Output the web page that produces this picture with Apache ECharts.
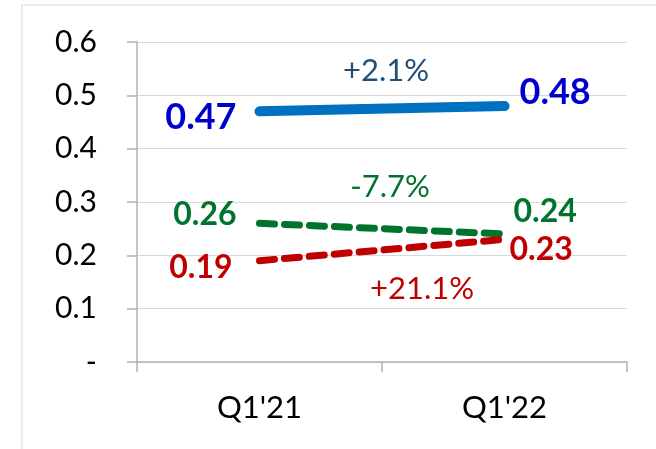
<!DOCTYPE html>
<html>
<head>
<meta charset="utf-8">
<script src="https://cdn.jsdelivr.net/npm/echarts@6/dist/echarts.min.js"></script>
<style>
  html, body { margin: 0; padding: 0; background: #fff; }
  #main { width: 656px; height: 449px; }
</style>
</head>
<body>
<div id="main"></div>
<script>
var categories = ["Q1'21", "Q1'22"];
var blueValues = [0.47, 0.48];
var greenValues = [0.26, 0.24];
var redValues = [0.19, 0.23];
var changeLabels = ['+2.1%', '-7.7%', '+21.1%'];

var FONT = 'Lato';

var myChart = echarts.init(document.getElementById('main'));

function series(name, data, color, width, dashed, labelColor, size, offs) {
    return {
        name: name,
        type: 'line',
        data: data.map(function (v, i) {
            return {
                value: v,
                label: {
                    show: true,
                    position: i === 0 ? 'left' : 'right',
                    offset: offs[i],
                    distance: 0,
                    fontFamily: FONT,
                    fontWeight: 'bold',
                    fontSize: size,
                    color: labelColor,
                    formatter: function (p) { return p.value.toFixed(2); }
                }
            };
        }),
        symbol: 'circle',
        symbolSize: 2,
        showSymbol: true,
        itemStyle: { color: 'rgba(0,0,0,0)', borderWidth: 0 },
        lineStyle: {
            color: color,
            width: width,
            type: dashed ? [15, 10] : 'solid',
            cap: 'round'
        },
        z: 3
    };
}

myChart.setOption({
    animation: false,
    grid: { left: 137, right: 29, top: 42, bottom: 87 },
    xAxis: {
        type: 'category',
        data: categories,
        boundaryGap: true,
        axisLine: { lineStyle: { color: '#b3b3b3', width: 1.5 } },
        axisTick: { show: true, length: 10, lineStyle: { color: '#b3b3b3', width: 1.5 } },
        axisLabel: { color: '#000', fontFamily: FONT, fontSize: 31, margin: 30 }
    },
    yAxis: {
        type: 'value',
        min: 0,
        max: 0.6,
        interval: 0.1,
        axisLine: { show: true, lineStyle: { color: '#b3b3b3', width: 1.5 } },
        axisTick: { show: true, inside: false, length: 10, lineStyle: { color: '#b3b3b3', width: 1.5 } },
        splitLine: { lineStyle: { color: '#d9d9d9', width: 1 } },
        axisLabel: {
            color: '#000', fontFamily: FONT, fontSize: 30, margin: 40,
            formatter: function (v) {
                return Math.abs(v) < 1e-9 ? '-' : v.toFixed(1);
            }
        }
    },
    series: [
        series('blue', blueValues, '#0070C0', 10, false, '#0000CC', 36, [[-22, 6], [14, -14]]),
        series('green', greenValues, '#00732E', 7, true, '#00732E', 32, [[-22, -9], [8, -22]]),
        series('red', redValues, '#C00000', 7, true, '#C00000', 32, [[-26, 7], [4, 10]])
    ],
    graphic: [{
        type: 'rect',
        shape: { x: 22, y: 5, width: 640, height: 460 },
        style: { fill: 'none', stroke: '#e6e6e6', lineWidth: 1.5 },
        silent: true
    }]
});

// change annotations placed at the middle of each segment
var segs = [
    { data: blueValues, color: '#1F4E79', dx: 4, dy: -38 },
    { data: greenValues, color: '#00732E', dx: 8, dy: -42 },
    { data: redValues, color: '#C00000', dx: 40, dy: 39 }
];
var texts = segs.map(function (s, i) {
    var a = myChart.convertToPixel({ gridIndex: 0 }, [0, s.data[0]]);
    var b = myChart.convertToPixel({ gridIndex: 0 }, [1, s.data[1]]);
    return {
        type: 'text',
        x: (a[0] + b[0]) / 2 + s.dx,
        y: (a[1] + b[1]) / 2 + s.dy,
        style: {
            text: changeLabels[i],
            fill: s.color,
            font: '31px ' + FONT,
            textAlign: 'center',
            textVerticalAlign: 'middle'
        },
        z: 5
    };
});
myChart.setOption({ graphic: myChart.getOption().graphic[0].elements.concat(texts) });
</script>
</body>
</html>
